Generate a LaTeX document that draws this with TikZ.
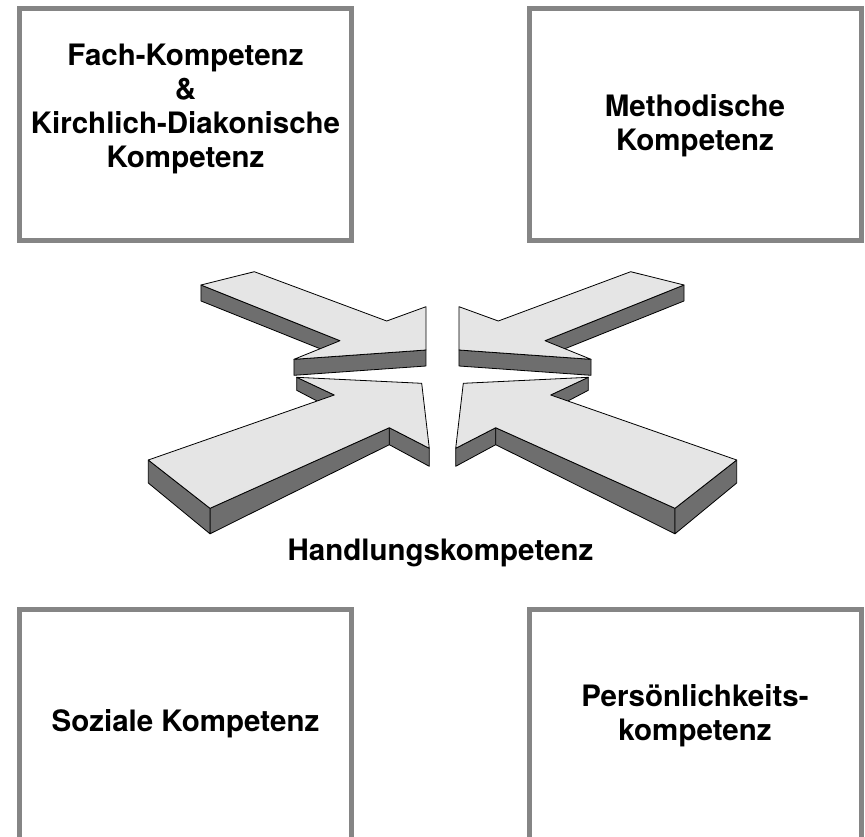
\documentclass[tikz,border=0pt]{standalone}
\usepackage{fontspec}
\setmainfont{TeX Gyre Heros}
\usetikzlibrary{calc}
\definecolor{boxGray}{RGB}{133,133,133}
\definecolor{faceLight}{RGB}{229,229,229}
\definecolor{faceDark}{RGB}{110,110,110}
\tikzset{
  comp box/.style={draw=boxGray,line width=5pt,fill=white,inner sep=0pt},
  comp text/.style={align=center,inner sep=0pt,font=\fontsize{29.5}{34}\selectfont\bfseries},
  arrow top/.style={fill=faceLight,draw=black,line width=0.8pt,line join=round},
  arrow side/.style={fill=faceDark,draw=black,line width=0.8pt,line join=round}
}
\begin{document}
\begin{tikzpicture}[x=1pt,y=-1pt]
  \useasboundingbox (-442.5,0) rectangle (422.5,836);
  % the four competence boxes (lower ones run off the page)
  \node[comp box,minimum width=332pt,minimum height=232pt] (fachbox) at (-257,124.5) {};
  \node[comp box,minimum width=332pt,minimum height=232pt] (methbox) at (252.5,124.5) {};
  \node[comp box,minimum width=332pt,minimum height=241pt] (sozbox) at (-257,730) {};
  \node[comp box,minimum width=332pt,minimum height=241pt] (persbox) at (252.5,730) {};
  \node[comp text] (fach) at (-257,109) {Fach-Kompetenz\\\&\\Kirchlich-Diakonische\\Kompetenz};
  \node[comp text] (meth) at (252.5,126) {Methodische\\Kompetenz};
  \node[comp text] (soz) at (-257,724) {Soziale Kompetenz};
  \node[comp text] (pers) at (252.5,716) {Persönlichkeits-\\kompetenz};
  % 3d arrows, left pair mirrored to the right
  \foreach \side in {1,-1}{
    \begin{scope}[xscale=\side]
      % upper arrow
      \coordinate (a1) at (-241.5,285);
      \coordinate (a2) at (-188.2,271.7);
      \coordinate (a3) at (-55.8,321);
      \coordinate (a4) at (-16.5,306.7);
      \coordinate (a5) at (-16.5,350);
      \coordinate (a6) at (-148.5,359.3);
      \coordinate (a7) at (-102.5,340.7);
      \filldraw[arrow side] (a5) -- (a6) -- ($(a6)+(0,16)$) -- ($(a5)+(0,16)$) -- cycle;
      \filldraw[arrow side] (a7) -- (a1) -- ($(a1)+(0,16)$) -- ($(a7)+(0,16)$) -- cycle;
      \filldraw[arrow top] (a1) -- (a2) -- (a3) -- (a4) -- (a5) -- (a6) -- (a7) -- cycle;
      % lower arrow
      \coordinate (b1) at (-294.2,460);
      \coordinate (b2) at (-108.2,395);
      \coordinate (b3) at (-145.8,377.3);
      \coordinate (b4) at (-20.8,383.3);
      \coordinate (b5) at (-13.2,448.3);
      \coordinate (b6) at (-53.2,427.7);
      \coordinate (b7) at (-232.5,508.3);
      \filldraw[arrow side] (b2) -- (b3) -- ($(b3)+(0,13)$) -- ($(b2)+(0,15)$) -- cycle;
      \filldraw[arrow side] (b5) -- (b6) -- ($(b6)+(0,17)$) -- ($(b5)+(0,18)$) -- cycle;
      \filldraw[arrow side] (b6) -- (b7) -- ($(b7)+(0,25.5)$) -- ($(b6)+(0,17)$) -- cycle;
      \filldraw[arrow side] (b7) -- (b1) -- ($(b1)+(0,23)$) -- ($(b7)+(0,25.5)$) -- cycle;
      \filldraw[arrow top] (b1) -- (b2) -- (b3) -- (b4) -- (b5) -- (b6) -- (b7) -- cycle;
    \end{scope}
  }
  \node[comp text] (handlung) at (-2,553) {Handlungskompetenz};
\end{tikzpicture}
\end{document}
